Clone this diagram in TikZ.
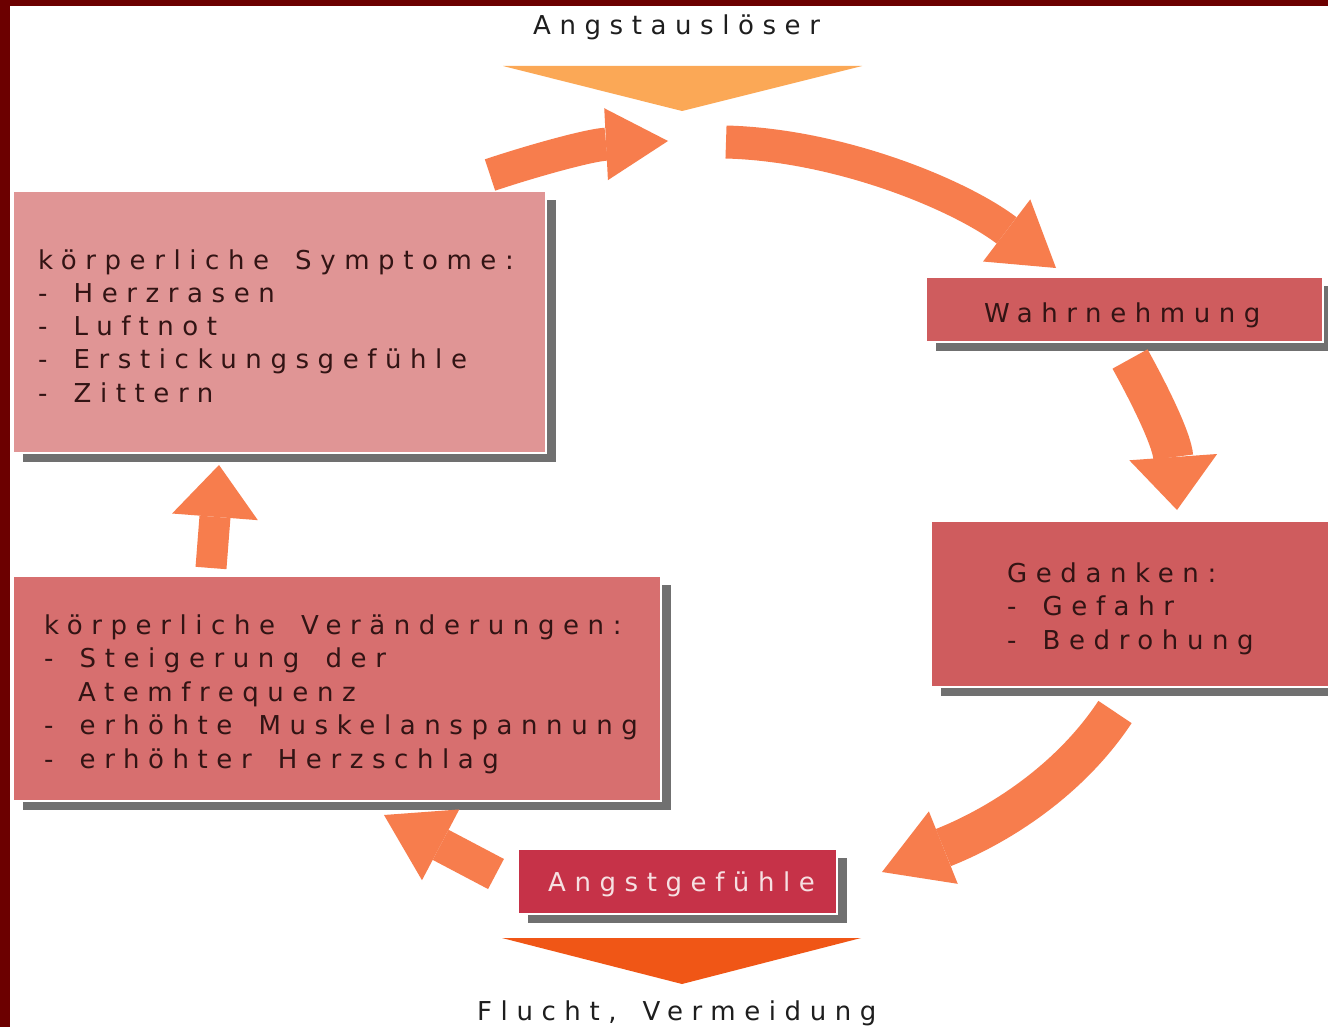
\documentclass[tikz,border=0pt]{standalone}
\usepackage{fontspec}
\setmainfont{DejaVu Sans}[LetterSpace=33,WordSpace=1.55]
\usetikzlibrary{arrows.meta,shadows}
\definecolor{borderred}{RGB}{108,0,0}
\definecolor{arrowc}{RGB}{247,125,77}
\definecolor{trione}{RGB}{251,168,86}
\definecolor{tritwo}{RGB}{240,86,22}
\definecolor{boxpink}{RGB}{224,149,149}
\definecolor{boxred}{RGB}{207,92,94}
\definecolor{boxmid}{RGB}{215,111,111}
\definecolor{boxdark}{RGB}{198,50,72}
\definecolor{shadowc}{RGB}{112,112,112}
\definecolor{boxtext}{RGB}{50,20,20}
\definecolor{lbltext}{RGB}{30,30,30}
\definecolor{lighttext}{RGB}{246,224,226}
\begin{document}
\begin{tikzpicture}[x=1pt,y=-1pt,
  box/.style={draw=white, line width=2pt, anchor=north west, inner sep=0pt,
    drop shadow={shadow xshift=10pt, shadow yshift=-9pt, fill=shadowc, opacity=1}},
  txt/.style={inner sep=0pt, align=left, text=boxtext, font=\fontsize{26}{33.2}\selectfont},
  lbl/.style={inner sep=0pt, text=lbltext, font=\fontsize{26}{32}\selectfont},
  barrow/.style={draw=arrowc, line cap=butt},
]
\useasboundingbox (0,0) rectangle (1328,1027);
\clip (0,0) rectangle (1328,1027);
\fill[borderred] (0,0) rectangle (1328,1027);
\fill[white] (10,6) rectangle (1328,1027);

% triangles
\fill[trione] (503,66) -- (862,66) -- (682,111) -- cycle;
\fill[tritwo] (502,938) -- (861,938) -- (682,984) -- cycle;

% labels
\node[lbl, anchor=base west] (lt) at (533,35) {Angstauslöser};
\node[lbl, anchor=base west] (lb) at (477,1020) {Flucht, Vermeidung};

% boxes
\node[box, fill=boxpink, minimum width=533pt, minimum height=262pt] (bs) at (12,190) {};
\node[box, fill=boxred, minimum width=397pt, minimum height=65pt] (bw) at (925,276) {};
\node[box, fill=boxred, minimum width=420pt, minimum height=166pt] (bg) at (930,520) {};
\node[box, fill=boxmid, minimum width=648pt, minimum height=225pt] (bv) at (12,575) {};
\node[box, fill=boxdark, minimum width=319pt, minimum height=65pt] (ba) at (517,848) {};

% texts
\node[txt, anchor=west] (ts) at (38,326) {körperliche Symptome:\\- Herzrasen\\- Luftnot\\- Erstickungsgefühle\\- Zittern};
\node[txt, anchor=base west] (tw) at (984,322) {Wahrnehmung};
\node[txt, anchor=west, font=\fontsize{26}{33.5}\selectfont] (tg) at (1007,608.5) {Gedanken:\\- Gefahr\\- Bedrohung};
\node[txt, anchor=west, font=\fontsize{26}{33.5}\selectfont] (tv) at (44,694) {körperliche Veränderungen:\\- Steigerung der\\\hspace*{34pt}Atemfrequenz\\- erhöhte Muskelanspannung\\- erhöhter Herzschlag};
\node[txt, anchor=base west, text=lighttext] (ta) at (548,891) {Angstgefühle};

% arrows
\coordinate (a1s) at (490,175); \coordinate (a1e) at (668,141);
\draw[barrow, line width=33pt, -{Triangle[length=62pt,width=72pt,line width=0pt]}]
  (a1s) .. controls (535,160) and (590,145) .. (a1e);
\coordinate (a2s) at (726,142); \coordinate (a2e) at (1056,268);
\draw[barrow, line width=33pt, -{Triangle[length=62pt,width=78pt,line width=0pt]}]
  (a2s) .. controls (840,145) and (960,195) .. (a2e);
\coordinate (a3s) at (1130,359); \coordinate (a3e) at (1177,510);
\draw[barrow, line width=40pt, -{Triangle[length=53pt,width=88pt,line width=0pt]}]
  (a3s) .. controls (1150,395) and (1172,440) .. (a3e);
\coordinate (a4s) at (1115,712); \coordinate (a4e) at (882,872);
\draw[barrow, line width=40pt, -{Triangle[length=66pt,width=78pt,line width=0pt]}]
  (a4s) .. controls (1070,780) and (1000,825) .. (a4e);
\coordinate (a5s) at (496,874); \coordinate (a5e) at (384,815);
\draw[barrow, line width=34pt, -{Triangle[length=64pt,width=80pt,line width=0pt]}]
  (a5s) -- (a5e);
\coordinate (a6s) at (211,568); \coordinate (a6e) at (219,465);
\draw[barrow, line width=31pt, -{Triangle[length=52pt,width=86pt,line width=0pt]}]
  (a6s) -- (a6e);
\end{tikzpicture}
\end{document}
